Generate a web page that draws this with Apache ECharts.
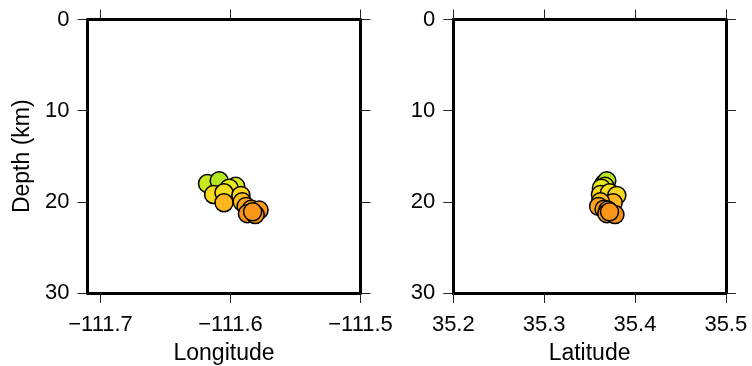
<!DOCTYPE html>
<html>
<head>
<meta charset="utf-8">
<script src="https://cdn.jsdelivr.net/npm/echarts@6/dist/echarts.min.js"></script>
<style>
html,body{margin:0;padding:0;background:#fff}
#main{width:752px;height:366px}
</style>
</head>
<body>
<div id="main"></div>
<script>
// event hypocentres
var lon   = [-111.6177, -111.6087, -111.5960, -111.6010, -111.6130, -111.6050, -111.5920, -111.6050, -111.5910, -111.5880, -111.5840, -111.5780, -111.5870, -111.5810, -111.5830];
var lat   = [35.366, 35.369, 35.367, 35.363, 35.362, 35.372, 35.380, 35.376, 35.362, 35.360, 35.366, 35.370, 35.369, 35.378, 35.372];
var depth = [18.0, 17.7, 18.3, 18.5, 19.2, 19.0, 19.3, 20.1, 20.0, 20.5, 20.8, 20.9, 21.3, 21.4, 21.1];

var lonTicks = [-111.7, -111.6, -111.5];
var latTicks = [35.2, 35.3, 35.4, 35.5];
var depthTicks = [0, 10, 20, 30];

var fnt = 'Liberation Sans, Arial, Helvetica, sans-serif';

var lonData = [], latData = [];
for (var i = 0; i < depth.length; i++) {
	lonData.push([lon[i], depth[i]]);
	latData.push([lat[i], depth[i]]);
}

function fmt(v) {
	return v.toFixed(1).replace('-', '\u2212');
}

function xAx(grid, min, max, ticks, pos, name) {
	return {
		type: 'value', gridIndex: grid, position: pos, min: min, max: max,
		name: name, nameLocation: 'middle', nameGap: 49,
		nameTextStyle: {fontFamily: fnt, fontSize: 23, color: '#000'},
		axisLine: {show: true, onZero: false, lineStyle: {color: '#000', width: 3}},
		axisTick: {show: true, inside: false, length: 10, customValues: ticks, lineStyle: {color: '#222', width: 1}},
		axisLabel: {show: pos == 'bottom', margin: 21, customValues: ticks, formatter: fmt,
			fontFamily: fnt, fontSize: 22, color: '#000'},
		splitLine: {show: false}
	};
}

function yAx(grid, pos, name, labels) {
	return {
		type: 'value', gridIndex: grid, position: pos, inverse: true, min: 0, max: 30, interval: 10,
		name: name, nameLocation: 'middle', nameGap: 53,
		nameTextStyle: {fontFamily: fnt, fontSize: 23, color: '#000'},
		axisLine: {show: true, onZero: false, lineStyle: {color: '#000', width: 3}},
		axisTick: {show: true, inside: false, length: 10, customValues: depthTicks, lineStyle: {color: '#222', width: 1}},
		axisLabel: {show: labels, margin: 18, customValues: depthTicks, fontFamily: fnt, fontSize: 22, color: '#000'},
		splitLine: {show: false}
	};
}

var myChart = echarts.init(document.getElementById('main'));

var option = {
	animation: false,
	backgroundColor: '#fff',
	grid: [
		{left: 87.5, top: 19.5, width: 273, height: 273.5, outerBoundsMode: 'none'},
		{left: 453.3, top: 19.5, width: 272.5, height: 273.5, outerBoundsMode: 'none'}
	],
	xAxis: [
		xAx(0, -111.71, -111.5, lonTicks, 'bottom', 'Longitude'),
		xAx(0, -111.71, -111.5, lonTicks, 'top', ''),
		xAx(1, 35.2, 35.5, latTicks, 'bottom', 'Latitude'),
		xAx(1, 35.2, 35.5, latTicks, 'top', '')
	],
	yAxis: [
		yAx(0, 'left', 'Depth (km)', true),
		yAx(0, 'right', '', false),
		yAx(1, 'left', '', true),
		yAx(1, 'right', '', false)
	],
	visualMap: {
		show: false, type: 'continuous', seriesIndex: [0, 1], dimension: 1,
		min: 17.5, max: 21.5,
		inRange: {color: ['#a8e61e', '#e6ea1c', '#ffd21e', '#ffa51c', '#f58c14']}
	},
	series: [
		{
			type: 'scatter', xAxisIndex: 0, yAxisIndex: 0, data: lonData,
			symbolSize: 18, itemStyle: {borderColor: '#000', borderWidth: 1.5, opacity: 1}
		},
		{
			type: 'scatter', xAxisIndex: 2, yAxisIndex: 2, data: latData,
			symbolSize: 18, itemStyle: {borderColor: '#000', borderWidth: 1.5, opacity: 1}
		}
	]
};

myChart.setOption(option);
</script>
</body>
</html>
